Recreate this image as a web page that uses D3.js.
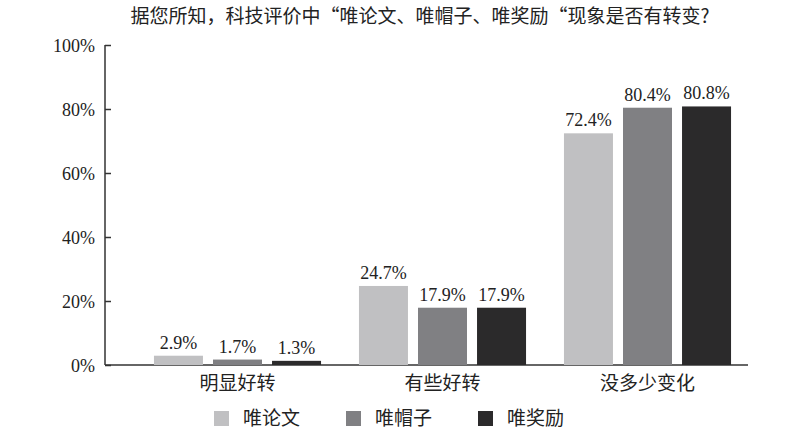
<!DOCTYPE html>
<html><head><meta charset="utf-8">
<script src="https://cdn.jsdelivr.net/npm/d3@7"></script>
<style>body{margin:0;background:#fff}</style>
</head><body>
<svg id="c" width="787" height="435"></svg>
<script>
const title = "据您所知，科技评价中“唯论文、唯帽子、唯奖励“现象是否有转变?";
const categories = ["明显好转", "有些好转", "没多少变化"];
const seriesNames = ["唯论文", "唯帽子", "唯奖励"];
const lunwen = [2.9, 24.7, 72.4];
const maozi = [1.7, 17.9, 80.4];
const jiangli = [1.3, 17.9, 80.8];
const yTicks = [0, 20, 40, 60, 80, 100];
const colors = ["#c0c0c2", "#808083", "#2b2a2b"];

const seriesVals = [lunwen, maozi, jiangli];
const font = "'Liberation Serif','Noto Sans CJK SC',serif";
const cjkFont = "'Noto Sans CJK SC','Liberation Serif',serif";
const svg = d3.select("#c");

const y = d3.scaleLinear().domain([0, 100]).range([365, 45]);
const x0 = d3.scaleBand().domain(categories).range([135, 750]).paddingInner(0.185).paddingOuter(0.0925);
const x1 = d3.scaleBand().domain(seriesNames).range([0, x0.bandwidth()]).paddingInner(0.17).paddingOuter(0);

svg.append("text").attr("x", 420).attr("y", 23).attr("text-anchor", "middle")
  .attr("font-family", cjkFont).attr("font-size", 19).attr("fill", "#222").text(title);

// y axis
const yAxis = d3.axisLeft(y).tickValues(yTicks).tickFormat(d => d + "%").tickSize(-6).tickPadding(10);
const gy = svg.append("g").attr("transform", "translate(105,0)").call(yAxis);
gy.select(".domain").attr("stroke", "#333").attr("stroke-width", 1.5).attr("d", "M0," + y(100) + "V" + y(0));
gy.selectAll(".tick line").attr("stroke", "#333").attr("stroke-width", 1.5);
gy.selectAll(".tick text").attr("font-family", font).attr("font-size", 18).attr("fill", "#222").attr("x", -10).attr("dy", "0.35em");

// x axis
const xAxis = d3.axisBottom(x0).tickSize(0).tickPadding(12);
const gx = svg.append("g").attr("transform", "translate(0," + y(0) + ")").call(xAxis);
gx.select(".domain").attr("stroke", "#333").attr("stroke-width", 1.5).attr("d", "M105,0H748");
gx.selectAll(".tick text").attr("font-family", font).attr("font-size", 19).attr("fill", "#222");

// bars
categories.forEach((c, ci) => {
  const g = svg.append("g").attr("transform", "translate(" + x0(c) + ",0)");
  seriesNames.forEach((s, si) => {
    const v = seriesVals[si][ci];
    g.append("rect").attr("x", x1(s)).attr("y", y(v)).attr("width", x1.bandwidth())
      .attr("height", y(0) - y(v)).attr("fill", colors[si]);
    g.append("text").attr("x", x1(s) + x1.bandwidth() / 2).attr("y", y(v) - 7)
      .attr("text-anchor", "middle").attr("font-family", font).attr("font-size", 18)
      .attr("fill", "#222").text(v.toFixed(1) + "%");
  });
});

// legend
const lg = svg.append("g").attr("transform", "translate(214,411)");
seriesNames.forEach((s, i) => {
  const it = lg.append("g").attr("transform", "translate(" + (i * 132) + ",0)");
  it.append("rect").attr("width", 15).attr("height", 15).attr("fill", colors[i]);
  it.append("text").attr("x", 29).attr("y", 7.5).attr("dy", "0.35em")
    .attr("font-family", font).attr("font-size", 19).attr("fill", "#222").text(s);
});
</script>
</body></html>
